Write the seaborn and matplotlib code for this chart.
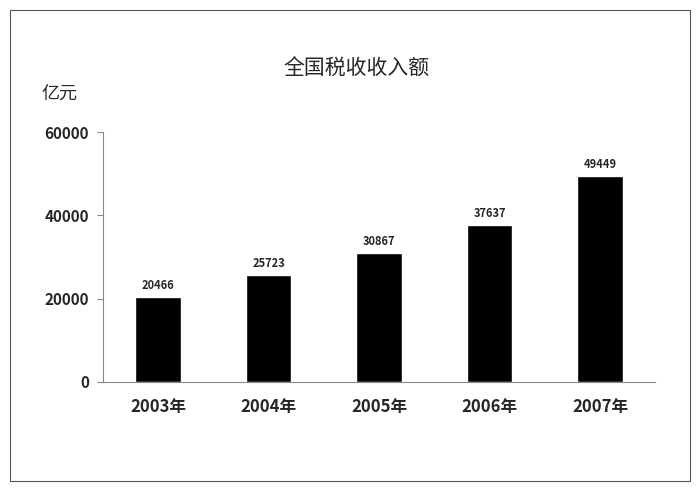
import matplotlib
matplotlib.use('Agg')
import matplotlib.pyplot as plt
import seaborn as sns
from matplotlib.patches import Rectangle

years = ['2003年', '2004年', '2005年', '2006年', '2007年']
values = [20466, 25723, 30867, 37637, 49449]

sns.set_style('white')
plt.rcParams['font.family'] = ['Noto Sans CJK SC', 'DejaVu Sans']

fig = plt.figure(figsize=(7, 4.91), dpi=100)
ax = fig.add_axes([0.147, 0.222, 0.789, 0.509])

sns.barplot(x=years, y=values, color='black', width=0.41, ax=ax, saturation=1)

for i, v in enumerate(values):
    ax.text(i, v + 1200, str(v), ha='center', va='bottom', fontsize=8, fontweight='bold')

ax.set_ylim(0, 60000)
ax.set_yticks([0, 20000, 40000, 60000])
ax.set_xlim(-0.5, 4.5)
for s in ['top', 'right']:
    ax.spines[s].set_visible(False)
for s in ['left', 'bottom']:
    ax.spines[s].set_color('#888888')
    ax.spines[s].set_linewidth(0.8)
ax.tick_params(axis='y', left=True, length=4, color='#888888', labelsize=11, pad=6)
ax.tick_params(axis='x', bottom=False, labelsize=12, pad=8)
for lab in ax.get_yticklabels() + ax.get_xticklabels():
    lab.set_fontweight('bold')

fig.text(0.51, 0.86, '全国税收收入额', ha='center', va='center', fontsize=15)
fig.text(0.085, 0.81, '亿元', ha='center', va='center', fontsize=13)

fig.patches.append(Rectangle((0.014, 0.02), 0.972, 0.96, transform=fig.transFigure,
                             fill=False, edgecolor='#555555', linewidth=0.8))

fig.savefig('out.png', dpi=100)
